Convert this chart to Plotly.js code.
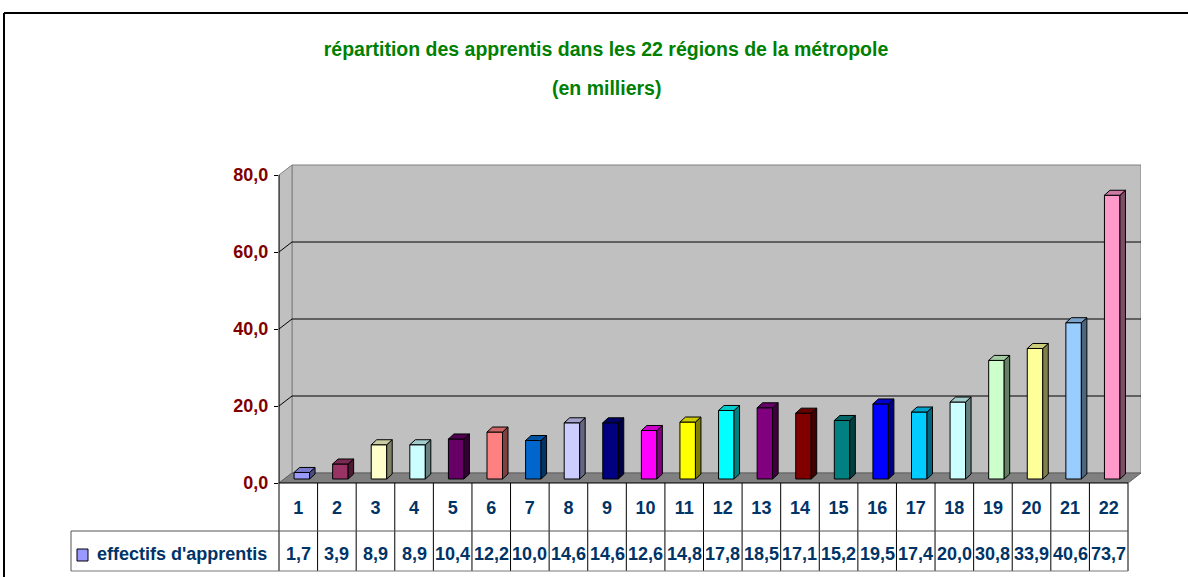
<!DOCTYPE html>
<html><head><meta charset="utf-8">
<script src="https://cdn.plot.ly/plotly-3.0.1.min.js"></script>
<style>html,body{margin:0;padding:0;background:#fff;overflow:hidden}#chart{width:1188px;height:577px}</style>
</head><body><div id="chart"></div>
<script>
// ---------- data ----------
const categories = ['1','2','3','4','5','6','7','8','9','10','11','12','13','14','15','16','17','18','19','20','21','22'];
const values = [1.7,3.9,8.9,8.9,10.4,12.2,10.0,14.6,14.6,12.6,14.8,17.8,18.5,17.1,15.2,19.5,17.4,20.0,30.8,33.9,40.6,73.7];
const barColors = ['#9999FF','#993366','#FFFFCC','#CCFFFF','#660066','#FF8080','#0066CC','#CCCCFF','#000080','#FF00FF','#FFFF00','#00FFFF','#800080','#800000','#008080','#0000FF','#00CCFF','#CCFFFF','#CCFFCC','#FFFF99','#99CCFF','#FF99CC'];
const yTickVals = [0,20,40,60,80];
const yTickText = ['0,0','20,0','40,0','60,0','80,0'];
const gridVals = [20,40,60];
const seriesName = "effectifs d'apprentis";
const titleLine1 = "répartition des apprentis dans les 22 régions de la métropole";
const titleLine2 = "(en milliers)";

// ---------- geometry ----------
const W = 1188, H = 577, ML = 279, MR = 47, MT = 164, MB = 94;
const plotW = W - ML - MR, plotH = H - MT - MB;
const nCat = categories.length;
const colPx = 849 / nCat;
const xMin = 0.5, xMax = xMin + plotW / colPx;
const pxPerY = 3.85;
const yMax = plotH / pxPerY;
const DX = 13 / colPx, DY = 10 / pxPerY;          // back wall depth
const barW = 15.5 / colPx, barShift = 3.5 / colPx, barBase = 4 / pxPerY;
const sDX = 5.5 / colPx, sDY = 5 / pxPerY;        // bar depth
const wallTop = yTickVals[yTickVals.length - 1];
const xEnd = xMin + nCat;

const positions = categories.map((c, i) => i + 1);
const valueLabels = values.map(v => v.toFixed(1).replace('.', ','));

const px2x = px => (px - ML) / plotW;
const py2y = py => (H - MB - py) / plotH;

function shade(hex, f) {
  const n = parseInt(hex.slice(1), 16);
  const r = Math.round(((n >> 16) & 255) * f), g = Math.round(((n >> 8) & 255) * f), b = Math.round((n & 255) * f);
  return 'rgb(' + r + ',' + g + ',' + b + ')';
}

const FONT = 'Liberation Sans, Arial, sans-serif';
const shapes = [];

// back wall
shapes.push({type:'path', xref:'x', yref:'y', layer:'below',
  path:`M${xMin+DX},${DY} L${xEnd+DX},${DY} L${xEnd+DX},${wallTop+DY} L${xMin+DX},${wallTop+DY} Z`,
  fillcolor:'#C0C0C0', line:{color:'#808080', width:1}});
// left wall
shapes.push({type:'path', xref:'x', yref:'y', layer:'below',
  path:`M${xMin},0 L${xMin},${wallTop} L${xMin+DX},${wallTop+DY} L${xMin+DX},${DY} Z`,
  fillcolor:'#C0C0C0', line:{color:'#808080', width:1}});
// gridlines
gridVals.forEach(v => {
  shapes.push({type:'line', xref:'x', yref:'y', layer:'below', x0:xMin+DX, x1:xEnd+DX, y0:v+DY, y1:v+DY, line:{color:'#000', width:1}});
  shapes.push({type:'line', xref:'x', yref:'y', layer:'below', x0:xMin, x1:xMin+DX, y0:v, y1:v+DY, line:{color:'#000', width:1}});
});
// floor
shapes.push({type:'path', xref:'x', yref:'y', layer:'below',
  path:`M${xMin},0 L${xEnd},0 L${xEnd+DX},${DY} L${xMin+DX},${DY} Z`,
  fillcolor:'#808080', line:{color:'#606060', width:1}});
// front value axis line
shapes.push({type:'line', xref:'paper', yref:'y', layer:'above', x0:0, x1:0, y0:0, y1:wallTop, line:{color:'#000', width:1}});

// bar side + top faces
values.forEach((v, i) => {
  const L = positions[i] - barW / 2 + barShift, R = L + barW, B = barBase, T = barBase + v;
  shapes.push({type:'path', xref:'x', yref:'y', layer:'above',
    path:`M${R},${B} L${R+sDX},${B+sDY} L${R+sDX},${T+sDY} L${R},${T} Z`,
    fillcolor: shade(barColors[i], 0.5), line:{color:'#000', width:1}});
  shapes.push({type:'path', xref:'x', yref:'y', layer:'above',
    path:`M${L},${T} L${L+sDX},${T+sDY} L${R+sDX},${T+sDY} L${R},${T} Z`,
    fillcolor: shade(barColors[i], 0.8), line:{color:'#000', width:1}});
});

// data table lines
const tableRight = nCat * colPx / plotW;
const rowMid = py2y(531), rowBot = py2y(571);
shapes.push({type:'line', xref:'paper', yref:'paper', x0:0, x1:tableRight, y0:0, y1:0, line:{color:'#000', width:1}});
for (let k = 0; k <= nCat; k++) {
  const xp = k * colPx / plotW;
  shapes.push({type:'line', xref:'paper', yref:'paper', x0:xp, x1:xp, y0:0, y1:rowBot, line:{color:'#000', width:1}});
}
shapes.push({type:'line', xref:'paper', yref:'paper', x0:px2x(71), x1:tableRight, y0:rowMid, y1:rowMid, line:{color:'#555', width:1}});
shapes.push({type:'line', xref:'paper', yref:'paper', x0:px2x(71), x1:tableRight, y0:rowBot, y1:rowBot, line:{color:'#777', width:1}});
shapes.push({type:'line', xref:'paper', yref:'paper', x0:px2x(71), x1:px2x(71), y0:rowMid, y1:rowBot, line:{color:'#555', width:1}});
// legend key
shapes.push({type:'rect', xref:'paper', yref:'paper', x0:px2x(77), x1:px2x(88), y0:py2y(549), y1:py2y(561), fillcolor:barColors[0], line:{color:'#000', width:1}});
// outer frame
shapes.push({type:'line', xref:'paper', yref:'paper', x0:px2x(4), x1:px2x(1188), y0:py2y(13), y1:py2y(13), line:{color:'#000', width:2}});
shapes.push({type:'line', xref:'paper', yref:'paper', x0:px2x(4), x1:px2x(4), y0:py2y(13), y1:py2y(577), line:{color:'#000', width:2}});

const tableFont = {family:FONT, size:18, color:'#003366', weight:'bold'};
const titleFont = {family:FONT, size:19.5, color:'#008000', weight:'bold'};
const annotations = valueLabels.map((t, i) => ({
  xref:'x', yref:'paper', x:positions[i], y:py2y(554), text:t, showarrow:false,
  xanchor:'center', yanchor:'middle', font:tableFont
}));
annotations.push({xref:'paper', yref:'paper', x:px2x(95), y:py2y(554), text:seriesName, showarrow:false,
  xanchor:'left', yanchor:'middle', font:tableFont});
annotations.push({xref:'paper', yref:'paper', x:px2x(606), y:py2y(88), text:titleLine2, showarrow:false,
  xanchor:'center', yanchor:'middle', font:titleFont});

const trace = {
  type:'bar', x:positions, y:values, base:barBase, width:barW, offset:-barW/2 + barShift,
  marker:{color:barColors, line:{color:'#000', width:1}}, hoverinfo:'skip', showlegend:false, name:seriesName
};

const layout = {
  width:W, height:H, margin:{l:ML, r:MR, t:MT, b:MB, pad:0},
  paper_bgcolor:'#fff', plot_bgcolor:'rgba(0,0,0,0)',
  title:{text:titleLine1, x:606/W, xanchor:'center', xref:'container', y:1 - 49/H, yanchor:'middle', yref:'container',
    font:titleFont},
  xaxis:{range:[xMin, xMax], tickvals:positions, ticktext:categories, showgrid:false, zeroline:false, showline:false,
    ticks:'', tickfont:tableFont, ticklabelstandoff:12, fixedrange:true},
  yaxis:{range:[0, yMax], tickvals:yTickVals, ticktext:yTickText, showgrid:false, zeroline:false, showline:false,
    ticks:'outside', ticklen:4, tickwidth:1, tickcolor:'#000',
    tickfont:{family:FONT, size:18, color:'#800000', weight:'bold'}, ticklabelstandoff:2, fixedrange:true},
  shapes:shapes, annotations:annotations, showlegend:false, bargap:0
};

Plotly.newPlot('chart', [trace], layout, {displayModeBar:false, staticPlot:true});
</script></body></html>
